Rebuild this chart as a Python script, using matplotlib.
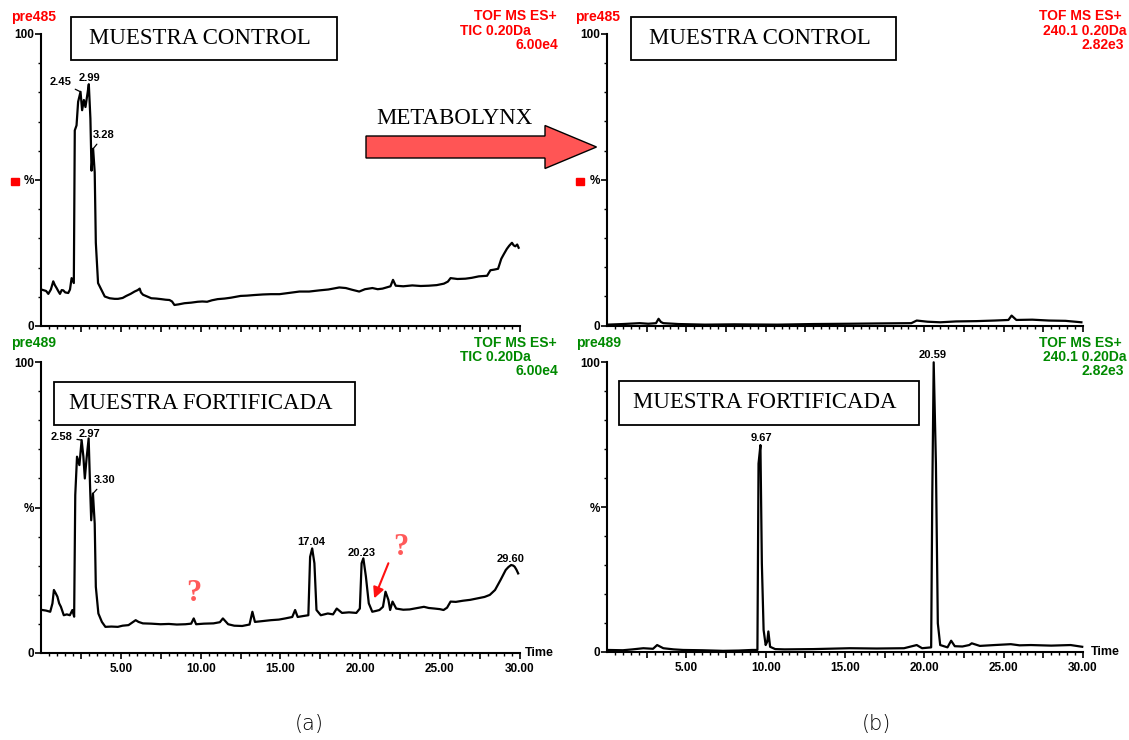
import matplotlib
matplotlib.use('Agg')
import matplotlib.pyplot as plt
from matplotlib.patches import Rectangle, Polygon
from matplotlib.ticker import FixedLocator, FuncFormatter

# ---------------- DATA ----------------
# Top-left: control sample, TIC
tl_time = [0.06, 0.3, 0.44, 0.6, 0.75, 0.85, 0.96, 1.08, 1.17, 1.28,
           1.38, 1.5, 1.69, 1.8, 1.9, 2.04, 2.1, 2.21, 2.31, 2.46,
           2.56, 2.67, 2.77, 2.9, 2.98, 3.08, 3.15, 3.25, 3.35, 3.42,
           3.56, 3.77, 3.98, 4.29, 4.6, 4.81, 5.1, 5.33, 5.6, 5.85,
           6.05, 6.17, 6.25, 6.38, 6.6, 6.9, 7.2, 7.52, 7.8, 8.04,
           8.2, 8.35, 8.6, 8.98, 9.4, 9.81, 10.1, 10.4, 10.7, 11.06,
           11.5, 11.9, 12.2, 12.5, 12.9, 13.35, 13.9, 14.4, 14.94, 15.5,
           16.19, 16.8, 17.44, 18.0, 18.4, 18.69, 19.1, 19.5, 19.94, 20.3,
           20.77, 21.1, 21.4, 21.9, 22.06, 22.23, 22.7, 23.27, 23.8, 24.3,
           24.8, 25.25, 25.5, 25.67, 26.1, 26.6, 27.0, 27.44, 27.96, 28.17,
           28.4, 28.65, 28.85, 29.0, 29.2, 29.35, 29.52, 29.63, 29.73, 29.85,
           29.94]
tl_int = [12.4, 12.0, 11.0, 12.5, 15.3, 14.0, 13.0, 11.8, 11.0, 12.3,
          12.2, 11.5, 11.3, 12.5, 16.4, 14.7, 67.0, 68.7, 76.8, 80.2,
          73.9, 77.4, 75.0, 79.7, 82.8, 71.0, 53.2, 60.7, 52.6, 28.5,
          14.7, 12.4, 10.1, 9.5, 9.3, 9.3, 9.6, 10.3, 11.0, 11.8,
          12.3, 12.8, 11.5, 10.7, 10.2, 9.5, 9.4, 9.2, 9.0, 8.9,
          8.4, 7.2, 7.4, 7.8, 8.0, 8.3, 8.4, 8.3, 8.8, 9.2,
          9.4, 9.7, 10.0, 10.3, 10.4, 10.6, 10.8, 10.9, 10.9, 11.3,
          11.8, 11.8, 12.2, 12.5, 12.9, 13.2, 13.0, 12.4, 11.8, 12.6,
          13.0, 12.6, 12.8, 13.6, 15.8, 13.8, 13.6, 13.9, 13.7, 13.8,
          14.0, 14.5, 15.2, 16.4, 16.1, 16.2, 16.5, 17.0, 17.2, 19.1,
          19.3, 19.6, 23.0, 24.5, 26.4, 27.5, 28.5, 27.6, 27.3, 27.9,
          26.8]

# Bottom-left: fortified sample, TIC
bl_time = [0.07, 0.3, 0.56, 0.7, 0.79, 0.9, 1.01, 1.12, 1.23, 1.41,
           1.6, 1.79, 1.95, 2.06, 2.13, 2.24, 2.39, 2.53, 2.64, 2.73,
           2.84, 2.97, 3.06, 3.13, 3.24, 3.35, 3.42, 3.58, 3.8, 4.02,
           4.4, 4.8, 5.1, 5.47, 5.92, 6.1, 6.37, 6.9, 7.48, 8.0,
           8.5, 9.04, 9.4, 9.56, 9.71, 10.2, 10.8, 11.2, 11.39, 11.72,
           12.1, 12.6, 13.06, 13.24, 13.4, 13.9, 14.4, 14.9, 15.3, 15.74,
           15.92, 16.08, 16.4, 16.75, 16.86, 16.99, 17.13, 17.26, 17.53, 17.97,
           18.3, 18.53, 18.86, 19.3, 19.76, 19.98, 20.09, 20.2, 20.36, 20.54,
           20.76, 21.0, 21.21, 21.43, 21.59, 21.77, 21.88, 22.03, 22.26, 22.7,
           23.1, 23.5, 24.0, 24.3, 24.67, 25.0, 25.23, 25.45, 25.67, 26.0,
           26.45, 26.9, 27.35, 27.8, 28.13, 28.46, 28.8, 29.13, 29.3, 29.47,
           29.6, 29.69, 29.8, 29.91]
bl_int = [14.7, 14.5, 14.1, 17.0, 21.6, 20.5, 19.3, 17.0, 15.8, 12.9,
          13.2, 12.9, 14.7, 12.4, 54.3, 67.5, 64.6, 73.2, 67.5, 60.0,
          66.9, 73.8, 57.1, 45.6, 54.8, 44.4, 22.7, 13.5, 10.6, 8.9,
          9.0, 8.9, 9.3, 9.5, 11.2, 10.6, 10.1, 10.0, 9.8, 9.9,
          9.7, 9.8, 10.0, 11.8, 9.8, 10.0, 10.1, 10.5, 11.8, 9.8,
          9.3, 9.2, 9.7, 14.1, 10.6, 10.9, 11.2, 11.4, 11.8, 12.3,
          14.7, 12.3, 12.6, 12.9, 33.0, 35.9, 30.8, 14.7, 12.9, 13.5,
          13.2, 15.2, 13.7, 13.9, 13.7, 15.2, 30.8, 32.5, 26.2, 17.0,
          14.1, 14.4, 14.7, 15.8, 21.0, 18.2, 14.7, 17.6, 15.2, 14.8,
          14.9, 15.3, 15.8, 15.4, 15.2, 15.0, 14.7, 15.5, 17.6, 17.5,
          17.9, 18.2, 18.7, 19.2, 19.9, 21.6, 25.0, 28.5, 29.5, 30.2,
          30.0, 29.6, 28.6, 27.3]

# Top-right: control sample, extracted m/z 240.1
tr_time = [0.05, 1.0, 2.06, 2.6, 3.09, 3.25, 3.4, 3.55, 4.5, 6.17,
           8.0, 10.73, 13.0, 15.3, 17.0, 19.18, 19.52, 20.2, 21.0, 22.0,
           23.28, 24.43, 25.3, 25.5, 25.8, 26.8, 27.85, 28.9, 29.9]
tr_int = [0.3, 0.5, 0.8, 0.6, 0.8, 2.3, 1.2, 0.8, 0.5, 0.3,
          0.4, 0.3, 0.5, 0.6, 0.7, 0.8, 1.7, 1.3, 1.1, 1.4,
          1.5, 1.7, 1.9, 3.4, 1.9, 2.0, 1.7, 1.6, 1.1]

# Bottom-right: fortified sample, extracted m/z 240.1
br_time = [0.05, 1.0, 1.61, 2.29, 2.9, 3.16, 3.55, 4.2, 4.8, 6.0,
           7.31, 8.3, 9.14, 9.48, 9.55, 9.67, 9.76, 9.87, 10.0, 10.1,
           10.17, 10.28, 10.6, 11.19, 13.0, 15.3, 17.0, 18.72, 19.52, 19.86,
           20.43, 20.5, 20.59, 20.73, 20.85, 21.0, 21.46, 21.69, 21.92, 22.4,
           22.83, 22.99, 23.5, 24.43, 25.45, 26.0, 26.71, 28.0, 29.22, 29.95]
br_int = [0.6, 0.5, 0.8, 1.2, 1.0, 2.3, 1.2, 0.8, 0.6, 0.5,
          0.3, 0.4, 0.6, 0.6, 65.0, 71.4, 30.5, 7.5, 2.3, 3.5,
          7.0, 1.7, 0.9, 0.8, 0.9, 1.2, 1.1, 1.2, 2.3, 1.2,
          1.5, 53.6, 100.0, 65.0, 9.8, 2.3, 1.5, 3.8, 1.9, 1.8,
          2.3, 2.9, 2.0, 2.3, 2.6, 2.2, 2.3, 2.1, 2.3, 1.7]

# Peak labels (label text, peak time, peak intensity)
tl_peaks = ["2.45", "2.99", "3.28"]
tl_peak_t = [2.46, 2.98, 3.25]
tl_peak_i = [80.2, 82.8, 60.7]
bl_peaks = ["2.58", "2.97", "3.30", "17.04", "20.23", "29.60"]
bl_peak_t = [2.53, 2.97, 3.24, 16.99, 20.2, 29.47]
bl_peak_i = [73.2, 73.8, 54.8, 35.9, 32.5, 30.2]
br_peaks = ["9.67", "20.59"]
br_peak_t = [9.67, 20.59]
br_peak_i = [71.4, 100.0]

# Header texts
sample_ids = ["pre485", "pre489"]
hdr_left = ["TOF MS ES+", "TIC 0.20Da", "6.00e4"]
hdr_right = ["TOF MS ES+", "240.1 0.20Da", "2.82e3"]
box_titles = ["MUESTRA CONTROL", "MUESTRA FORTIFICADA"]
x_tick_labels = ["5.00", "10.00", "15.00", "20.00", "25.00", "30.00"]

# ---------------- LAYOUT ----------------
W, H = 1129, 740
fig = plt.figure(figsize=(W / 100, H / 100), dpi=100)
plt.rcParams['font.family'] = ['Liberation Sans', 'DejaVu Sans']

RED = '#FF0000'
GREEN = '#008A00'


def fx(px):
    return px / W


def fy(py):
    return 1 - py / H


def make_ax(left, right, top, bottom, show_xlabels):
    ax = fig.add_axes([fx(left), fy(bottom), fx(right) - fx(left), fy(top) - fy(bottom)])
    ax.set_xlim(0, 30)
    ax.set_ylim(0, 100)
    for s in ('top', 'right'):
        ax.spines[s].set_visible(False)
    for s in ('left', 'bottom'):
        ax.spines[s].set_linewidth(1.5)
    ax.yaxis.set_major_locator(FixedLocator([0, 50, 100]))
    ax.set_yticklabels(['0', '%', '100'])
    ax.yaxis.set_minor_locator(FixedLocator([10, 20, 30, 40, 60, 70, 80, 90]))
    ax.xaxis.set_major_locator(FixedLocator([i * 2.5 for i in range(1, 13)]))
    ax.xaxis.set_minor_locator(FixedLocator([i * 0.5 for i in range(1, 61)]))
    if show_xlabels:
        lab = {5 * (i + 1): t for i, t in enumerate(x_tick_labels)}
        ax.xaxis.set_major_formatter(FuncFormatter(
            lambda v, p: lab.get(int(round(v)), '') if abs(v - round(v)) < 1e-6 else ''))
    else:
        ax.xaxis.set_major_formatter(FuncFormatter(lambda v, p: ''))
    ax.tick_params(which='major', direction='out', length=4.5, width=1.2,
                   labelsize=8.5, pad=3)
    ax.tick_params(which='minor', direction='out', length=2.5, width=1.0)
    ax.tick_params(axis='y', which='major', pad=0.5)
    for t in ax.get_xticklabels() + ax.get_yticklabels():
        t.set_fontweight('bold')
    ax.patch.set_visible(False)
    return ax


ax_tl = make_ax(41.3, 519.6, 34, 326, False)
ax_bl = make_ax(41.3, 519.6, 362.3, 652.7, True)
ax_tr = make_ax(607, 1083, 34, 325.5, False)
ax_br = make_ax(607, 1083, 362.3, 651.7, True)

for ax, t, y in ((ax_tl, tl_time, tl_int), (ax_bl, bl_time, bl_int),
                 (ax_tr, tr_time, tr_int), (ax_br, br_time, br_int)):
    ax.plot(t, y, color='black', lw=1.6, clip_on=False, solid_joinstyle='round')


def label_peaks(ax, labels, pts, ipts, text_pos, leaders):
    for lab, pt, pi, tp, ld in zip(labels, pts, ipts, text_pos, leaders):
        if ld:
            ax.annotate(lab, xy=(pt, pi), xytext=tp, ha='center', va='center',
                        fontsize=8, fontweight='bold', annotation_clip=False,
                        arrowprops=dict(arrowstyle='-', lw=0.9, color='black',
                                        shrinkA=1, shrinkB=0))
        else:
            ax.text(tp[0], tp[1], lab, ha='center', va='center', fontsize=8,
                    fontweight='bold', clip_on=False)


label_peaks(ax_tl, tl_peaks, tl_peak_t, tl_peak_i,
            [(1.19, 83.6), (3.05, 84.8), (3.94, 65.3)], [True, False, True])
label_peaks(ax_bl, bl_peaks, bl_peak_t, bl_peak_i,
            [(1.29, 74.3), (3.05, 75.2), (3.99, 59.3), (16.94, 38.2),
             (20.1, 34.5), (29.44, 32.4)],
            [True, False, True, False, False, False])
label_peaks(ax_br, br_peaks, br_peak_t, br_peak_i,
            [(9.71, 74.0), (20.54, 102.6)], [False, False])

# Time labels
for px, py in ((525, 653), (1090.5, 652)):
    fig.text(fx(px), fy(py), 'Time', ha='left', va='center', fontsize=9,
             fontweight='bold')

# Headers
def header(left_px, right_px, top_rows, sid, lines, color):
    fig.text(fx(left_px), fy(top_rows[0]), sid, ha='left', va='center',
             fontsize=10, fontweight='bold', color=color)
    for (rx, ry), txt in zip(right_px, lines):
        fig.text(fx(rx), fy(ry), txt, ha='right', va='center', fontsize=10,
                 fontweight='bold', color=color)


header(10.7, [(556.4, 15.5), (531, 30.8), (557.9, 44.7)], [16.7],
       sample_ids[0], hdr_left, RED)
header(10.7, [(556.4, 342.7), (531, 356.7), (557.9, 371)], [343],
       sample_ids[1], hdr_left, GREEN)
header(575.5, [(1121.7, 15.5), (1126.5, 30.8), (1124.5, 44.7)], [16.7],
       sample_ids[0], hdr_right, RED)
header(576.3, [(1121.7, 342.7), (1126.5, 356.7), (1124.5, 371)], [343.3],
       sample_ids[1], hdr_right, GREEN)

# Red squares next to % in top panels
for px in (10.7, 576.3):
    fig.patches.append(Rectangle((fx(px), fy(184.5)), 8 / W, 7 / H,
                                 transform=fig.transFigure, color=RED))

# Title boxes
def title_box(x0, x1, y0, y1, txt):
    fig.patches.append(Rectangle((fx(x0), fy(y1)), (x1 - x0) / W, (y1 - y0) / H,
                                 transform=fig.transFigure, fill=False,
                                 edgecolor='black', lw=1.3))
    fig.text(fx((x0 + x1) / 2 - 4), fy((y0 + y1) / 2), txt, ha='center',
             va='center', fontsize=16.5, family='Liberation Serif')


title_box(71, 337, 17, 60, box_titles[0])
title_box(630.8, 896.4, 17, 60, box_titles[0])
title_box(54, 355, 382, 425, box_titles[1])
title_box(618.8, 919.2, 381, 425, box_titles[1])

# METABOLYNX arrow
arrow_pts = [(366, 136), (545, 136), (545, 125.5), (596.5, 147), (545, 168.5),
             (545, 158), (366, 158)]
fig.patches.append(Polygon([(fx(a), fy(b)) for a, b in arrow_pts], closed=True,
                           transform=fig.transFigure, facecolor='#FF5555',
                           edgecolor='black', lw=1.0))
fig.text(fx(454.7), fy(119), 'METABOLYNX', ha='center', va='center',
         fontsize=16.5, family='Liberation Serif')

# Question marks and red arrow in fortified TIC
ax_bl.text(9.57, 20.3, '?', ha='center', va='center', fontsize=22,
           fontweight='bold', family='Liberation Serif', color='#FF5A5A')
ax_bl.text(22.53, 36.1, '?', ha='center', va='center', fontsize=22,
           fontweight='bold', family='Liberation Serif', color='#FF5A5A')
ax_bl.annotate('', xy=(20.88, 18.7), xytext=(21.77, 30.8),
               arrowprops=dict(arrowstyle='-|>', color='#FF1010', lw=1.5,
                               mutation_scale=16, shrinkA=0, shrinkB=0))

# Panel labels
fig.text(fx(309), fy(724), '(a)', ha='center', va='center', fontsize=15,
         family='DejaVu Sans', fontweight='light')
fig.text(fx(876.5), fy(724), '(b)', ha='center', va='center', fontsize=15,
         family='DejaVu Sans', fontweight='light')

fig.savefig('out.png', dpi=100)
